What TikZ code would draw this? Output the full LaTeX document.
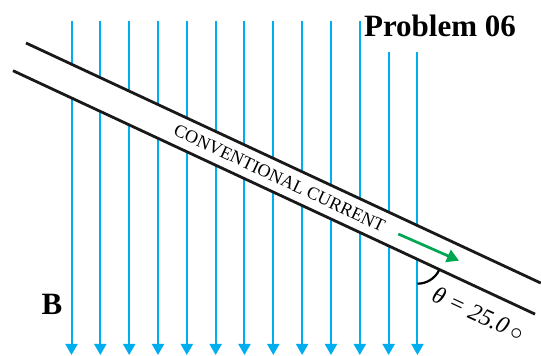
\documentclass[tikz,border=0pt]{standalone}
\usepackage{fontspec}
\setmainfont{Liberation Serif}
\usetikzlibrary{positioning, calc, arrows.meta}
\definecolor{fieldblue}{RGB}{0,174,239}
\definecolor{currgreen}{RGB}{0,166,81}
\begin{document}
\begin{tikzpicture}[x=1pt, y=1pt,
        field/.style={draw=fieldblue, line width=2pt, -{Triangle[length=11pt, width=12pt]}},
        wire/.style={draw=black!90, line width=2.8pt},
        curr/.style={draw=currgreen, line width=2.7pt, -{Triangle[length=12pt, width=13pt]}},
        lbl/.style={inner sep=0pt, font=\fontsize{31}{36}\selectfont\bfseries},
        tilted/.style={inner sep=0pt, rotate=-25}
    ]
        \useasboundingbox (0,0) rectangle (541,356);
        % field lines B
        \foreach \i in {0,...,12} {
            \pgfmathsetmacro{\xx}{71.5+28.83*\i}
            \pgfmathsetmacro{\yy}{\i>10 ? 304 : 335}
            \draw[field] (\xx,\yy) -- (\xx,1);
        }
        % wire
        \coordinate (wa) at (26,313);
        \coordinate (wb) at (13,285.3);
        \coordinate (wa2) at ($(wa)+(-25:568)$);
        \coordinate (wb2) at ($(wb)+(-25:576)$);
        \fill[white] (wa) -- (wa2) -- (wb2) -- (wb) -- cycle;
        \draw[wire] (wa) -- (wa2);
        \draw[wire] (wb) -- (wb2);
        \node[tilted, font=\fontsize{18}{20}\selectfont] (cc) at (279.5,177.8) {CONVENTIONAL CURRENT};
        % current direction
        \coordinate (ca) at (398.3,122);
        \coordinate (cb) at (459,95.3);
        \draw[curr] (ca) -- (cb);
        % angle
        \coordinate (vtx) at (417.5,96.3);
        \draw[line width=2.2pt] ($(vtx)+(0,-24)$) arc[start angle=-90, end angle=-25, radius=24];
        \node[tilted, font=\fontsize{24}{26}\selectfont\itshape] (theta) at (478.5,42.5) {θ = 25.0\,$\circ$};
        % labels
        \node[lbl, anchor=base] (bfield) at (52,41) {B};
        \node[lbl, anchor=base] (title) at (440,319.3) {Problem 06};
    \end{tikzpicture}
\end{document}
